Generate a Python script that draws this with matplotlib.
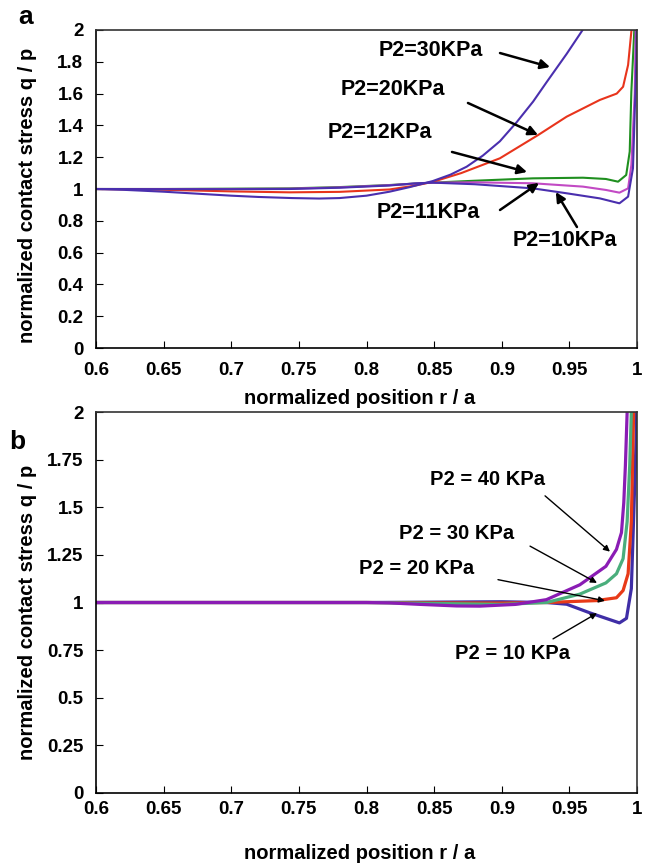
import matplotlib
matplotlib.use("Agg")
import matplotlib.pyplot as plt

plt.rcParams["font.family"] = ["Liberation Sans", "DejaVu Sans"]
plt.rcParams["font.weight"] = "bold"

# ---- panel a data ----
a_x30 = [0.6, 0.62, 0.65, 0.68, 0.7, 0.72, 0.745, 0.765, 0.78, 0.8, 0.817, 0.832, 0.849,
         0.862, 0.874, 0.886, 0.8986, 0.911, 0.9232, 0.933, 0.948, 0.959, 0.965]
a_y30 = [1.0, 0.995, 0.983, 0.968, 0.958, 0.95, 0.943, 0.94, 0.943, 0.958, 0.983, 1.012, 1.05,
         1.09, 1.14, 1.21, 1.30, 1.42, 1.55, 1.67, 1.85, 1.99, 2.07]

a_x20 = [0.6, 0.65, 0.7, 0.743, 0.78, 0.817, 0.835, 0.849, 0.87, 0.8986, 0.927, 0.948,
         0.9725, 0.985, 0.9897, 0.9934, 0.9958, 0.997]
a_y20 = [1.0, 0.995, 0.985, 0.979, 0.982, 0.997, 1.02, 1.045, 1.1, 1.193, 1.34, 1.455,
         1.56, 1.6, 1.643, 1.78, 1.99, 2.05]

a_x12 = [0.6, 0.65, 0.7, 0.743, 0.78, 0.817, 0.849, 0.88, 0.923, 0.96, 0.977, 0.986,
         0.992, 0.9946, 0.9958, 0.998, 0.999]
a_y12 = [1.0, 1.0, 1.002, 1.004, 1.012, 1.025, 1.04, 1.052, 1.067, 1.071, 1.063, 1.046,
         1.088, 1.235, 1.61, 2.0, 2.05]

a_x11 = [0.6, 0.65, 0.7, 0.743, 0.78, 0.817, 0.849, 0.88, 0.923, 0.96, 0.977, 0.987,
         0.9934, 0.9958, 0.9983, 0.999, 0.9995]
a_y11 = [1.0, 1.0, 1.0, 1.002, 1.01, 1.024, 1.04, 1.042, 1.036, 1.015, 0.994, 0.977,
         1.004, 1.15, 1.6, 2.0, 2.05]

a_x10 = [0.6, 0.65, 0.7, 0.743, 0.78, 0.817, 0.835, 0.849, 0.88, 0.923, 0.948, 0.9725,
         0.987, 0.9934, 0.997, 0.9995, 1.0]
a_y10 = [1.0, 0.999, 0.999, 1.0, 1.008, 1.022, 1.035, 1.04, 1.03, 1.004, 0.973, 0.941,
         0.91, 0.952, 1.13, 1.8, 2.3]

# ---- panel b data ----
b_x40 = [0.6, 0.7, 0.8, 0.817, 0.84, 0.8666, 0.8838, 0.91, 0.933, 0.9577, 0.977, 0.9848,
         0.9885, 0.9902, 0.9914, 0.9927, 0.994]
b_y40 = [1.0, 1.0, 1.0, 0.998, 0.99, 0.982, 0.981, 0.99, 1.015, 1.093, 1.19, 1.279,
         1.367, 1.523, 1.718, 2.0, 2.1]

b_x30 = [0.6, 0.7, 0.8, 0.85, 0.9, 0.933, 0.9577, 0.977, 0.9848, 0.9897, 0.9927, 0.9946,
         0.9958, 0.997]
b_y30 = [1.0, 1.0, 1.0, 0.995, 0.99, 1.0, 1.044, 1.103, 1.151, 1.23, 1.425, 1.72,
         2.0, 2.1]

b_x20 = [0.6, 0.7, 0.8, 0.85, 0.9, 0.933, 0.97, 0.9848, 0.9897, 0.9934, 0.9958, 0.9975,
         0.9985]
b_y20 = [1.0, 1.0, 1.0, 0.998, 0.997, 1.0, 1.01, 1.025, 1.063, 1.151, 1.425, 2.0, 2.1]

b_x10 = [0.6, 0.7, 0.8, 0.85, 0.9, 0.933, 0.948, 0.965, 0.977, 0.987, 0.9922, 0.9958,
         0.9983, 0.9995, 1.0]
b_y10 = [1.0, 1.0, 1.0, 1.002, 1.004, 1.0, 0.991, 0.946, 0.917, 0.893, 0.917, 1.073,
         1.62, 1.9, 2.3]

a_labels = ["P2=30KPa", "P2=20KPa", "P2=12KPa", "P2=11KPa", "P2=10KPa"]
b_labels = ["P2 = 40 KPa", "P2 = 30 KPa", "P2 = 20 KPa", "P2 = 10 KPa"]

BLUE = "#4a2fae"
RED = "#e8341c"
GREEN = "#1f8f1f"
MAGENTA = "#c24ac4"
PURPLE = "#8a1cb4"
SEA = "#4aae7c"
RED_B = "#e83a18"
BLUE_B = "#3f2ea6"

fig = plt.figure(figsize=(6.46, 8.64), dpi=100)
ax1 = fig.add_axes([0.1486, 0.5972, 0.8375, 0.3681])
ax2 = fig.add_axes([0.1486, 0.0822, 0.8375, 0.4409])

# panel a
ax1.plot(a_x12, a_y12, color=GREEN, lw=1.5)
ax1.plot(a_x11, a_y11, color=MAGENTA, lw=1.5)
ax1.plot(a_x20, a_y20, color=RED, lw=1.5)
ax1.plot(a_x10, a_y10, color=BLUE, lw=1.5)
ax1.plot(a_x30, a_y30, color=BLUE, lw=1.5)

a_text = [(0.8477, 1.874), (0.8196, 1.623), (0.81, 1.358), (0.8455, 0.855), (0.9468, 0.679)]
a_tail = [(0.8987, 1.855), (0.875, 1.541), (0.8632, 1.233), (0.8987, 0.868), (0.9556, 0.761)]
a_head = [(0.9357, 1.767), (0.9268, 1.340), (0.9187, 1.107), (0.9275, 1.038), (0.940, 0.981)]
for lab, t, s, h in zip(a_labels, a_text, a_tail, a_head):
    ax1.text(t[0], t[1], lab, ha="center", va="center", fontsize=15.5, fontweight="bold")
    ax1.annotate("", xy=h, xytext=s,
                 arrowprops=dict(arrowstyle="-|>", color="black", lw=1.8,
                                 mutation_scale=14, shrinkA=0, shrinkB=0))

ax1.set_xlim(0.6, 1.0)
ax1.set_ylim(0, 2)
ax1.set_xticks([0.6, 0.65, 0.7, 0.75, 0.8, 0.85, 0.9, 0.95, 1.0])
ax1.set_xticklabels(["0.6", "0.65", "0.7", "0.75", "0.8", "0.85", "0.9", "0.95", "1"])
ax1.set_yticks([0, 0.2, 0.4, 0.6, 0.8, 1.0, 1.2, 1.4, 1.6, 1.8, 2.0])
ax1.set_yticklabels(["0", "0.2", "0.4", "0.6", "0.8", "1", "1.2", "1.4", "1.6", "1.8", "2"])
ax1.tick_params(direction="in", length=5, width=0.8, labelsize=13.5, pad=9)
ax1.tick_params(axis="x", pad=10)
ax1.set_xlabel("normalized position r / a", fontsize=14.5, fontweight="bold")
ax1.set_ylabel("normalized contact stress q / p", fontsize=14.5, fontweight="bold")
ax1.xaxis.set_label_coords(0.488, -0.129)
ax1.yaxis.set_label_coords(-0.109, 0.48)

# panel b
ax2.plot(b_x10, b_y10, color=BLUE_B, lw=2.3)
ax2.plot(b_x20, b_y20, color=RED_B, lw=2.3)
ax2.plot(b_x30, b_y30, color=SEA, lw=2.3)
ax2.plot(b_x40, b_y40, color=PURPLE, lw=2.3)

b_text = [(0.8891, 1.648), (0.8669, 1.361), (0.8373, 1.179), (0.9083, 0.733)]
b_tail = [(0.932, 1.560), (0.9209, 1.296), (0.8972, 1.120), (0.9379, 0.809)]
b_head = [(0.980, 1.267), (0.9704, 1.103), (0.9763, 1.009), (0.9704, 0.944)]
for lab, t, s, h in zip(b_labels, b_text, b_tail, b_head):
    ax2.text(t[0], t[1], lab, ha="center", va="center", fontsize=14.5, fontweight="bold")
    ax2.annotate("", xy=h, xytext=s,
                 arrowprops=dict(arrowstyle="-|>", color="black", lw=1.0,
                                 mutation_scale=9, shrinkA=0, shrinkB=0))

ax2.set_xlim(0.6, 1.0)
ax2.set_ylim(0, 2)
ax2.set_xticks([0.6, 0.65, 0.7, 0.75, 0.8, 0.85, 0.9, 0.95, 1.0])
ax2.set_xticklabels(["0.6", "0.65", "0.7", "0.75", "0.8", "0.85", "0.9", "0.95", "1"])
ax2.set_yticks([0, 0.25, 0.5, 0.75, 1.0, 1.25, 1.5, 1.75, 2.0])
ax2.set_yticklabels(["0", "0.25", "0.5", "0.75", "1", "1.25", "1.5", "1.75", "2"])
ax2.tick_params(direction="in", length=5, width=0.8, labelsize=13.5, pad=9)
ax2.tick_params(axis="x", pad=6)
ax2.set_xlabel("normalized position r / a", fontsize=14.5, fontweight="bold")
ax2.set_ylabel("normalized contact stress q / p", fontsize=14.5, fontweight="bold")
ax2.xaxis.set_label_coords(0.488, -0.135)
ax2.yaxis.set_label_coords(-0.109, 0.474)

for ax in (ax1, ax2):
    for sp in ax.spines.values():
        sp.set_linewidth(1.2)
        sp.set_color("#333333")
    ax.spines["bottom"].set_color("black")
    ax.spines["left"].set_color("black")

fig.text(0.040, 0.980, "a", fontsize=19, fontweight="bold", ha="center", va="center")
fig.text(0.027, 0.489, "b", fontsize=19, fontweight="bold", ha="center", va="center")

fig.savefig("out.png", dpi=100)
